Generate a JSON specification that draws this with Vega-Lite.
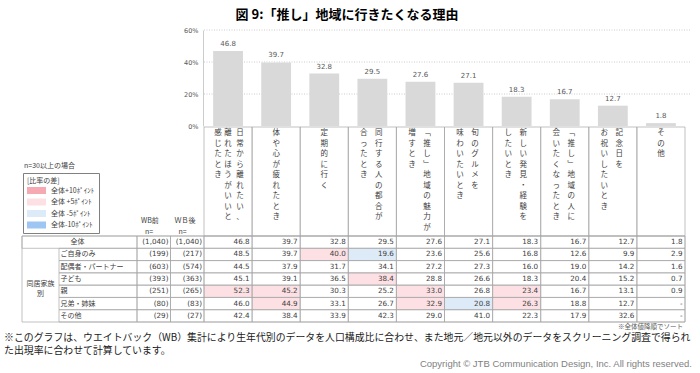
{
  "$schema": "https://vega.github.io/schema/vega-lite/v6.json",
  "width": 700,
  "height": 373,
  "autosize": {"type": "none"},
  "padding": 0,
  "background": "#ffffff",
  "config": {"view": {"stroke": null}, "font": "Noto Sans CJK JP"},
  "datasets": {
    "reasons": [
      {"id": "c1", "reason": "日常から離れたい、離れたほうがいいと感じたとき", "pct": 46.8},
      {"id": "c2", "reason": "体や心が疲れたとき", "pct": 39.7},
      {"id": "c3", "reason": "定期的に行く", "pct": 32.8},
      {"id": "c4", "reason": "同行する人の都合が合ったとき", "pct": 29.5},
      {"id": "c5", "reason": "「推し」地域の魅力が増すとき", "pct": 27.6},
      {"id": "c6", "reason": "旬のグルメを味わいたいとき", "pct": 27.1},
      {"id": "c7", "reason": "新しい発見・経験をしたいとき", "pct": 18.3},
      {"id": "c8", "reason": "「推し」地域の人に会いたくなったとき", "pct": 16.7},
      {"id": "c9", "reason": "記念日をお祝いしたいとき", "pct": 12.7},
      {"id": "c10", "reason": "その他", "pct": 1.8}
    ],
    "labelLines": [
      {"id": "c1", "lines": 3, "line": 1, "text": "日常から離れたい、"},
      {"id": "c1", "lines": 3, "line": 2, "text": "離れたほうがいいと"},
      {"id": "c1", "lines": 3, "line": 3, "text": "感じたとき"},
      {"id": "c2", "lines": 1, "line": 1, "text": "体や心が疲れたとき"},
      {"id": "c3", "lines": 1, "line": 1, "text": "定期的に行く"},
      {"id": "c4", "lines": 2, "line": 1, "text": "同行する人の都合が"},
      {"id": "c4", "lines": 2, "line": 2, "text": "合ったとき"},
      {"id": "c5", "lines": 2, "line": 1, "text": "﹁推し﹂地域の魅力が"},
      {"id": "c5", "lines": 2, "line": 2, "text": "増すとき"},
      {"id": "c6", "lines": 2, "line": 1, "text": "旬のグルメを"},
      {"id": "c6", "lines": 2, "line": 2, "text": "味わいたいとき"},
      {"id": "c7", "lines": 2, "line": 1, "text": "新しい発見・経験を"},
      {"id": "c7", "lines": 2, "line": 2, "text": "したいとき"},
      {"id": "c8", "lines": 2, "line": 1, "text": "﹁推し﹂地域の人に"},
      {"id": "c8", "lines": 2, "line": 2, "text": "会いたくなったとき"},
      {"id": "c9", "lines": 2, "line": 1, "text": "記念日を"},
      {"id": "c9", "lines": 2, "line": 2, "text": "お祝いしたいとき"},
      {"id": "c10", "lines": 1, "line": 1, "text": "その他"}
    ],
    "table": [
      {"row": "全体", "group": null, "wbBefore": 1040, "wbAfter": 1040, "c1": 46.8, "c2": 39.7, "c3": 32.8, "c4": 29.5, "c5": 27.6, "c6": 27.1, "c7": 18.3, "c8": 16.7, "c9": 12.7, "c10": 1.8},
      {"row": "ご自身のみ", "group": "同居家族別", "wbBefore": 199, "wbAfter": 217, "c1": 48.5, "c2": 39.7, "c3": 40.0, "c4": 19.6, "c5": 23.6, "c6": 25.6, "c7": 16.8, "c8": 12.6, "c9": 9.9, "c10": 2.9},
      {"row": "配偶者・パートナー", "group": "同居家族別", "wbBefore": 603, "wbAfter": 574, "c1": 44.5, "c2": 37.9, "c3": 31.7, "c4": 34.1, "c5": 27.2, "c6": 27.3, "c7": 16.0, "c8": 19.0, "c9": 14.2, "c10": 1.6},
      {"row": "子ども", "group": "同居家族別", "wbBefore": 393, "wbAfter": 363, "c1": 45.1, "c2": 39.1, "c3": 36.5, "c4": 38.4, "c5": 28.8, "c6": 26.6, "c7": 18.3, "c8": 20.4, "c9": 15.2, "c10": 0.7},
      {"row": "親", "group": "同居家族別", "wbBefore": 251, "wbAfter": 265, "c1": 52.3, "c2": 45.2, "c3": 30.3, "c4": 25.2, "c5": 33.0, "c6": 26.8, "c7": 23.4, "c8": 16.7, "c9": 13.1, "c10": 0.9},
      {"row": "兄弟・姉妹", "group": "同居家族別", "wbBefore": 80, "wbAfter": 83, "c1": 46.0, "c2": 44.9, "c3": 33.1, "c4": 26.7, "c5": 32.9, "c6": 20.8, "c7": 26.3, "c8": 18.8, "c9": 12.7, "c10": null},
      {"row": "その他", "group": "同居家族別", "wbBefore": 29, "wbAfter": 27, "c1": 42.4, "c2": 38.4, "c3": 33.9, "c4": 42.3, "c5": 29.0, "c6": 41.0, "c7": 22.3, "c8": 17.9, "c9": 32.6, "c10": null}
    ],
    "highlights": [
      {"row": "ご自身のみ", "id": "c3", "diff": "全体 +5ﾎﾟｲﾝﾄ"},
      {"row": "ご自身のみ", "id": "c4", "diff": "全体 -5ﾎﾟｲﾝﾄ"},
      {"row": "子ども", "id": "c4", "diff": "全体 +5ﾎﾟｲﾝﾄ"},
      {"row": "親", "id": "c1", "diff": "全体 +5ﾎﾟｲﾝﾄ"},
      {"row": "親", "id": "c2", "diff": "全体 +5ﾎﾟｲﾝﾄ"},
      {"row": "親", "id": "c5", "diff": "全体 +5ﾎﾟｲﾝﾄ"},
      {"row": "親", "id": "c7", "diff": "全体 +5ﾎﾟｲﾝﾄ"},
      {"row": "兄弟・姉妹", "id": "c2", "diff": "全体 +5ﾎﾟｲﾝﾄ"},
      {"row": "兄弟・姉妹", "id": "c5", "diff": "全体 +5ﾎﾟｲﾝﾄ"},
      {"row": "兄弟・姉妹", "id": "c6", "diff": "全体 -5ﾎﾟｲﾝﾄ"},
      {"row": "兄弟・姉妹", "id": "c7", "diff": "全体 +5ﾎﾟｲﾝﾄ"}
    ],
    "wbHead": [
      {"wb": "wbBefore", "head": "WB前"},
      {"wb": "wbAfter", "head": "ＷＢ後"}
    ],
    "gridTicks": [{"pct": 20}, {"pct": 40}, {"pct": 60}],
    "notes": [
      {"key": "title", "text": "図 9:「推し」地域に行きたくなる理由"},
      {"key": "n30", "text": "n=30以上の場合"},
      {"key": "sort", "text": "※全体値降順でソート"},
      {"key": "fn1", "text": "※このグラフは、ウエイトバック（WB）集計により生年代別のデータを人口構成比に合わせ、また地元／地元以外のデータをスクリーニング調査で得られ"},
      {"key": "fn2", "text": "た出現率に合わせて計算しています。"},
      {"key": "copy", "text": "Copyright © JTB Communication Design, Inc. All rights reserved."}
    ]
  },
  "resolve": {"scale": {"x": "independent", "y": "independent"}},
  "layer": [
    {
      "data": {"name": "gridTicks"},
      "mark": {"type": "rule", "stroke": "#BFBFBF", "strokeDash": [1, 1.5], "strokeWidth": 0.8},
      "encoding": {
        "y": {"field": "pct", "type": "quantitative", "scale": {"domain": [0, 60], "range": [126, 30], "nice": false}, "axis": null},
        "x": {"datum": 0, "type": "quantitative", "scale": {"domain": [0, 1], "range": [204, 690]}, "axis": null},
        "x2": {"datum": 1}
      }
    },
    {
      "data": {"name": "reasons"},
      "encoding": {
        "x": {"field": "id", "type": "nominal", "scale": {"domain": ["c1","c2","c3","c4","c5","c6","c7","c8","c9","c10"], "range": [204, 685], "paddingInner": 0, "paddingOuter": 0}, "axis": null},
        "y": {"field": "pct", "type": "quantitative", "scale": {"domain": [0, 60], "range": [126, 30], "nice": false},
              "axis": {"orient": "left", "offset": -203, "values": [0, 20, 40, 60], "labelExpr": "datum.value + '%'", "grid": false, "ticks": false, "domain": true, "domainColor": "#BFBFBF", "domainWidth": 0.8, "labelFont": "DejaVu Sans", "labelFontSize": 6.5, "labelColor": "#595959", "labelPadding": 5, "title": null}}
      },
      "layer": [
        {"mark": {"type": "bar", "width": {"band": 0.62}, "fill": "#D9D9D9"}},
        {"mark": {"type": "text", "baseline": "bottom", "dy": -4, "font": "DejaVu Sans", "fontSize": 7, "fill": "#595959"},
         "encoding": {"text": {"field": "pct", "type": "quantitative", "format": ".1f"}}}
      ]
    },
    {
      "encoding": {
        "x": {"field": "id", "type": "nominal", "scale": {"domain": ["c1","c2","c3","c4","c5","c6","c7","c8","c9","c10"], "range": [204, 685], "paddingInner": 0, "paddingOuter": 0}, "axis": null},
        "y": {"datum": "header", "type": "nominal", "scale": {"domain": ["header"], "range": [127, 236], "paddingInner": 0, "paddingOuter": 0}, "axis": null}
      },
      "layer": [
        {"data": {"name": "reasons"}, "mark": {"type": "rect", "filled": false, "stroke": "#A6A6A6", "strokeWidth": 0.7}},
        {"data": {"name": "labelLines"},
         "transform": [{"filter": "datum.lines == 1 || (datum.lines == 3 && datum.line == 2)"}, {"calculate": "join(split(datum.text, ''), '\\n')", "as": "vtext"}],
         "mark": {"type": "text", "align": "center", "baseline": "top", "dy": 2, "dx": 0, "lineBreak": "\n", "lineHeight": 10.5, "fontSize": 7.5, "fill": "#404040"},
         "encoding": {"y": {"datum": "header", "type": "nominal", "bandPosition": 0}, "text": {"field": "vtext", "type": "nominal"}}},
        {"data": {"name": "labelLines"},
         "transform": [{"filter": "datum.lines == 3 && datum.line == 1"}, {"calculate": "join(split(datum.text, ''), '\\n')", "as": "vtext"}],
         "mark": {"type": "text", "align": "center", "baseline": "top", "dy": 2, "dx": 12, "lineBreak": "\n", "lineHeight": 10.5, "fontSize": 7.5, "fill": "#404040"},
         "encoding": {"y": {"datum": "header", "type": "nominal", "bandPosition": 0}, "text": {"field": "vtext", "type": "nominal"}}},
        {"data": {"name": "labelLines"},
         "transform": [{"filter": "datum.lines == 3 && datum.line == 3"}, {"calculate": "join(split(datum.text, ''), '\\n')", "as": "vtext"}],
         "mark": {"type": "text", "align": "center", "baseline": "top", "dy": 2, "dx": -10, "lineBreak": "\n", "lineHeight": 10.5, "fontSize": 7.5, "fill": "#404040"},
         "encoding": {"y": {"datum": "header", "type": "nominal", "bandPosition": 0}, "text": {"field": "vtext", "type": "nominal"}}},
        {"data": {"name": "labelLines"},
         "transform": [{"filter": "datum.lines == 2 && datum.line == 1"}, {"calculate": "join(split(datum.text, ''), '\\n')", "as": "vtext"}],
         "mark": {"type": "text", "align": "center", "baseline": "top", "dy": 2, "dx": 6.5, "lineBreak": "\n", "lineHeight": 10.5, "fontSize": 7.5, "fill": "#404040"},
         "encoding": {"y": {"datum": "header", "type": "nominal", "bandPosition": 0}, "text": {"field": "vtext", "type": "nominal"}}},
        {"data": {"name": "labelLines"},
         "transform": [{"filter": "datum.lines == 2 && datum.line == 2"}, {"calculate": "join(split(datum.text, ''), '\\n')", "as": "vtext"}],
         "mark": {"type": "text", "align": "center", "baseline": "top", "dy": 2, "dx": -8.5, "lineBreak": "\n", "lineHeight": 10.5, "fontSize": 7.5, "fill": "#404040"},
         "encoding": {"y": {"datum": "header", "type": "nominal", "bandPosition": 0}, "text": {"field": "vtext", "type": "nominal"}}}
      ]
    },
    {
      "encoding": {
        "x": {"field": "id", "type": "nominal", "scale": {"domain": ["c1","c2","c3","c4","c5","c6","c7","c8","c9","c10"], "range": [204, 685], "paddingInner": 0, "paddingOuter": 0}, "axis": null},
        "y": {"field": "row", "type": "nominal", "scale": {"domain": ["全体","ご自身のみ","配偶者・パートナー","子ども","親","兄弟・姉妹","その他"], "range": [236, 322], "paddingInner": 0, "paddingOuter": 0}, "axis": null}
      },
      "layer": [
        {"data": {"name": "highlights"},
         "mark": {"type": "rect"},
         "encoding": {"fill": {"field": "diff", "type": "nominal",
           "scale": {"domain": ["全体+10ﾎﾟｲﾝﾄ", "全体 +5ﾎﾟｲﾝﾄ", "全体 -5ﾎﾟｲﾝﾄ", "全体-10ﾎﾟｲﾝﾄ"], "range": ["#F6A9B2", "#FCE0E4", "#DDEAF8", "#9DC6F2"]},
           "legend": {"orient": "none", "legendX": 23, "legendY": 173, "direction": "vertical", "title": "[比率の差]", "titleFont": "Noto Sans CJK JP", "titleFontSize": 7, "titleFontWeight": "normal", "titleColor": "#404040", "titlePadding": 3, "titleAnchor": "start", "labelFont": "Noto Sans CJK JP", "labelFontSize": 7, "labelColor": "#404040", "labelOffset": 17, "symbolType": "M-1,-1H4.43V1H-1Z", "symbolSize": 49, "symbolStrokeWidth": 0, "symbolOpacity": 1, "rowPadding": 3.5, "padding": 4, "strokeColor": "#808080", "fillColor": "#ffffff"}}}},
        {"data": {"name": "table"},
         "transform": [{"fold": ["c1","c2","c3","c4","c5","c6","c7","c8","c9","c10"], "as": ["id", "v"]}],
         "mark": {"type": "rect", "filled": false, "stroke": "#A6A6A6", "strokeWidth": 0.7}},
        {"data": {"name": "table"},
         "transform": [{"fold": ["c1","c2","c3","c4","c5","c6","c7","c8","c9","c10"], "as": ["id", "v"]}],
         "mark": {"type": "text", "align": "right", "baseline": "middle", "dx": -2.5, "font": "DejaVu Sans", "fontSize": 7.2, "fill": "#404040"},
         "encoding": {
           "x": {"field": "id", "type": "nominal", "bandPosition": 1, "scale": {"domain": ["c1","c2","c3","c4","c5","c6","c7","c8","c9","c10"], "range": [204, 685], "paddingInner": 0, "paddingOuter": 0}, "axis": null},
           "text": {"condition": {"test": "datum.v == null", "value": "-"}, "field": "v", "type": "quantitative", "format": ".1f"}}}
      ]
    },
    {
      "encoding": {
        "y": {"field": "row", "type": "nominal", "scale": {"domain": ["全体","ご自身のみ","配偶者・パートナー","子ども","親","兄弟・姉妹","その他"], "range": [236, 322], "paddingInner": 0, "paddingOuter": 0}, "axis": null}
      },
      "layer": [
        {"data": {"name": "table"},
         "transform": [{"fold": ["wbBefore", "wbAfter"], "as": ["wb", "n"]}],
         "mark": {"type": "rect", "filled": false, "stroke": "#A6A6A6", "strokeWidth": 0.7},
         "encoding": {"x": {"field": "wb", "type": "nominal", "scale": {"domain": ["wbBefore", "wbAfter"], "range": [137, 204], "paddingInner": 0, "paddingOuter": 0}, "axis": null}}},
        {"data": {"name": "table"},
         "transform": [{"fold": ["wbBefore", "wbAfter"], "as": ["wb", "n"]}, {"calculate": "'(' + format(datum.n, ',') + ')'", "as": "nText"}],
         "mark": {"type": "text", "align": "right", "baseline": "middle", "dx": -2, "font": "DejaVu Sans", "fontSize": 7.2, "fill": "#404040"},
         "encoding": {"x": {"field": "wb", "type": "nominal", "bandPosition": 1, "scale": {"domain": ["wbBefore", "wbAfter"], "range": [137, 204], "paddingInner": 0, "paddingOuter": 0}, "axis": null},
                      "text": {"field": "nText", "type": "nominal"}}},
        {"data": {"name": "wbHead"},
         "mark": {"type": "text", "align": "left", "baseline": "bottom", "dx": 4, "dy": -12, "fontSize": 7, "fill": "#404040"},
         "encoding": {"x": {"field": "wb", "type": "nominal", "bandPosition": 0, "scale": {"domain": ["wbBefore", "wbAfter"], "range": [137, 204], "paddingInner": 0, "paddingOuter": 0}, "axis": null},
                      "y": {"datum": "全体", "type": "nominal", "bandPosition": 0},
                      "text": {"field": "head", "type": "nominal"}}},
        {"data": {"name": "wbHead"},
         "mark": {"type": "text", "align": "left", "baseline": "bottom", "dx": 8, "dy": -1.5, "fontSize": 7, "fill": "#404040"},
         "encoding": {"x": {"field": "wb", "type": "nominal", "bandPosition": 0, "scale": {"domain": ["wbBefore", "wbAfter"], "range": [137, 204], "paddingInner": 0, "paddingOuter": 0}, "axis": null},
                      "y": {"datum": "全体", "type": "nominal", "bandPosition": 0},
                      "text": {"value": "n="}}}
      ]
    },
    {
      "data": {"name": "table"},
      "transform": [{"filter": "datum.row !== '全体'"}],
      "encoding": {
        "y": {"field": "row", "type": "nominal", "scale": {"domain": ["全体","ご自身のみ","配偶者・パートナー","子ども","親","兄弟・姉妹","その他"], "range": [236, 322], "paddingInner": 0, "paddingOuter": 0}, "axis": null}
      },
      "layer": [
        {"mark": {"type": "rect", "filled": false, "stroke": "#A6A6A6", "strokeWidth": 0.7},
         "encoding": {"x": {"datum": "label", "type": "nominal", "scale": {"domain": ["label"], "range": [59, 137], "paddingInner": 0, "paddingOuter": 0}, "axis": null}}},
        {"mark": {"type": "text", "align": "left", "baseline": "middle", "dx": 1.5, "fontSize": 7, "fill": "#404040"},
         "encoding": {"x": {"datum": "label", "type": "nominal", "bandPosition": 0, "scale": {"domain": ["label"], "range": [59, 137], "paddingInner": 0, "paddingOuter": 0}, "axis": null},
                      "text": {"field": "row", "type": "nominal"}}}
      ]
    },
    {
      "data": {"name": "table"},
      "transform": [{"filter": "datum.row === '全体'"}],
      "encoding": {
        "y": {"field": "row", "type": "nominal", "scale": {"domain": ["全体","ご自身のみ","配偶者・パートナー","子ども","親","兄弟・姉妹","その他"], "range": [236, 322], "paddingInner": 0, "paddingOuter": 0}, "axis": null},
        "x": {"datum": "total", "type": "nominal", "scale": {"domain": ["total"], "range": [22, 137], "paddingInner": 0, "paddingOuter": 0}, "axis": null}
      },
      "layer": [
        {"mark": {"type": "rect", "filled": false, "stroke": "#A6A6A6", "strokeWidth": 0.7}},
        {"mark": {"type": "text", "align": "center", "baseline": "middle", "dx": -2, "fontSize": 7, "fill": "#404040"},
         "encoding": {"text": {"field": "row", "type": "nominal"}}}
      ]
    },
    {
      "data": {"name": "table"},
      "transform": [
        {"filter": "datum.group != null"},
        {"aggregate": [{"op": "count", "as": "k"}], "groupby": ["group"]},
        {"calculate": "slice(datum.group, 0, 4) + '\\n' + slice(datum.group, 4)", "as": "gText"}
      ],
      "mark": {"type": "text", "align": "center", "baseline": "middle", "lineBreak": "\n", "lineHeight": 10, "dy": 5, "fontSize": 7, "fill": "#404040"},
      "encoding": {
        "x": {"field": "group", "type": "nominal", "scale": {"domain": ["同居家族別"], "range": [22, 59], "paddingInner": 0, "paddingOuter": 0}, "axis": null},
        "y": {"datum": "子ども", "type": "nominal", "bandPosition": 1, "scale": {"domain": ["全体","ご自身のみ","配偶者・パートナー","子ども","親","兄弟・姉妹","その他"], "range": [236, 322], "paddingInner": 0, "paddingOuter": 0}, "axis": null},
        "text": {"field": "gText", "type": "nominal"}
      }
    },
    {
      "data": {"values": [{"part": "table"}]},
      "mark": {"type": "rect", "filled": false, "stroke": "#A6A6A6", "strokeWidth": 0.7},
      "encoding": {
        "x": {"field": "part", "type": "nominal", "scale": {"domain": ["table"], "range": [22, 685], "paddingInner": 0, "paddingOuter": 0}, "axis": null},
        "y": {"field": "part", "type": "nominal", "scale": {"domain": ["table"], "range": [236, 322], "paddingInner": 0, "paddingOuter": 0}, "axis": null}
      }
    },
    {
      "data": {"name": "notes"},
      "transform": [{"filter": "datum.key === 'title'"}],
      "mark": {"type": "text", "align": "center", "baseline": "middle", "fontSize": 13, "fontWeight": "bold", "fill": "#000000"},
      "encoding": {"x": {"value": 347}, "y": {"value": 15}, "text": {"field": "text", "type": "nominal"}}
    },
    {
      "data": {"name": "notes"},
      "transform": [{"filter": "datum.key === 'n30'"}],
      "mark": {"type": "text", "align": "left", "baseline": "middle", "fontSize": 7, "fill": "#404040"},
      "encoding": {"x": {"value": 24}, "y": {"value": 166}, "text": {"field": "text", "type": "nominal"}}
    },
    {
      "data": {"name": "notes"},
      "transform": [{"filter": "datum.key === 'sort'"}],
      "mark": {"type": "text", "align": "right", "baseline": "middle", "fontSize": 6.5, "fill": "#595959"},
      "encoding": {"x": {"value": 683}, "y": {"value": 327}, "text": {"field": "text", "type": "nominal"}}
    },
    {
      "data": {"name": "notes"},
      "transform": [{"filter": "datum.key === 'fn1'"}],
      "mark": {"type": "text", "align": "left", "baseline": "middle", "fontSize": 9.9, "fill": "#1a1a1a"},
      "encoding": {"x": {"value": 4}, "y": {"value": 337.5}, "text": {"field": "text", "type": "nominal"}}
    },
    {
      "data": {"name": "notes"},
      "transform": [{"filter": "datum.key === 'fn2'"}],
      "mark": {"type": "text", "align": "left", "baseline": "middle", "fontSize": 9.9, "fill": "#1a1a1a"},
      "encoding": {"x": {"value": 4}, "y": {"value": 350.5}, "text": {"field": "text", "type": "nominal"}}
    },
    {
      "data": {"name": "notes"},
      "transform": [{"filter": "datum.key === 'copy'"}],
      "mark": {"type": "text", "align": "right", "baseline": "middle", "font": "Liberation Sans", "fontSize": 9.5, "fill": "#7F7F7F"},
      "encoding": {"x": {"value": 692}, "y": {"value": 364}, "text": {"field": "text", "type": "nominal"}}
    }
  ]
}
